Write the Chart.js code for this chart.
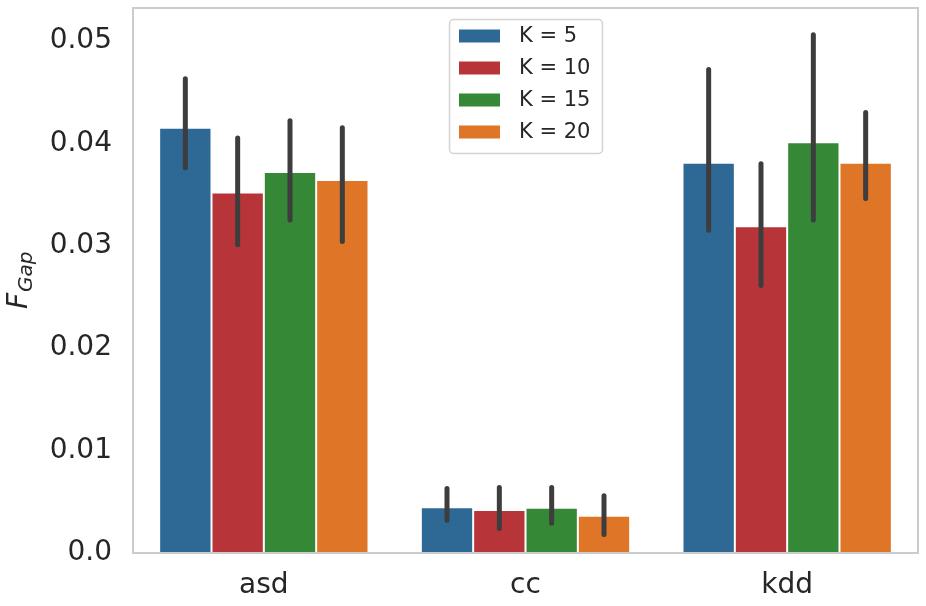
<!DOCTYPE html>
<html>
<head>
<meta charset="utf-8">
<script src="https://cdn.jsdelivr.net/npm/chart.js@4/dist/chart.umd.min.js"></script>
<style>
html,body{margin:0;padding:0;background:#fff;}
#wrap{width:926px;height:606px;position:relative;}
</style>
</head>
<body>
<div id="wrap"><canvas id="c" width="926" height="606"></canvas></div>
<script>
const categories = ['asd', 'cc', 'kdd'];
const seriesLabels = ['K = 5', 'K = 10', 'K = 15', 'K = 20'];
const seriesColors = ['#2e6894', '#b73539', '#358836', '#de7527'];

const k5  = [0.0415, 0.00446, 0.0381];
const k10 = [0.0352, 0.00420, 0.0319];
const k15 = [0.0372, 0.00442, 0.0401];
const k20 = [0.0364, 0.00364, 0.0381];

const k5Low   = [0.0376, 0.0032, 0.0315];
const k5High  = [0.0463, 0.0063, 0.0472];
const k10Low  = [0.0301, 0.0024, 0.0261];
const k10High = [0.0405, 0.0064, 0.0380];
const k15Low  = [0.0325, 0.0029, 0.0325];
const k15High = [0.0422, 0.0064, 0.0506];
const k20Low  = [0.0304, 0.0018, 0.0346];
const k20High = [0.0415, 0.0056, 0.0430];

const yTicks = [0, 0.01, 0.02, 0.03, 0.04, 0.05];
const yTickLabels = ['0.0', '0.01', '0.02', '0.03', '0.04', '0.05'];
const yMax = 0.0532;

const seriesValues = [k5, k10, k15, k20];
const seriesLow = [k5Low, k10Low, k15Low, k20Low];
const seriesHigh = [k5High, k10High, k15High, k20High];

const FONT = "'DejaVu Sans', sans-serif";
const TEXT = '#262626';

const errorBarPlugin = {
  id: 'errorBars',
  afterDatasetsDraw(chart) {
    const ctx = chart.ctx;
    const y = chart.scales.y;
    ctx.save();
    ctx.strokeStyle = '#3d3d3d';
    ctx.lineWidth = 5;
    ctx.lineCap = 'round';
    chart.data.datasets.forEach((ds, i) => {
      const meta = chart.getDatasetMeta(i);
      meta.data.forEach((bar, j) => {
        ctx.beginPath();
        ctx.moveTo(bar.x, y.getPixelForValue(seriesLow[i][j]));
        ctx.lineTo(bar.x, y.getPixelForValue(seriesHigh[i][j]));
        ctx.stroke();
      });
    });
    ctx.restore();
  }
};

const framePlugin = {
  id: 'frame',
  afterDraw(chart) {
    const a = chart.chartArea;
    const ctx = chart.ctx;
    ctx.save();
    ctx.strokeStyle = '#cccccc';
    ctx.lineWidth = 2;
    ctx.strokeRect(a.left, a.top, a.right - a.left, a.bottom - a.top);
    ctx.restore();
  }
};

const legendPlugin = {
  id: 'customLegend',
  afterDraw(chart) {
    const ctx = chart.ctx;
    const bx = 449.5, by = 19.5, bw = 153, bh = 134, r = 4;
    ctx.save();
    ctx.beginPath();
    ctx.moveTo(bx + r, by);
    ctx.arcTo(bx + bw, by, bx + bw, by + bh, r);
    ctx.arcTo(bx + bw, by + bh, bx, by + bh, r);
    ctx.arcTo(bx, by + bh, bx, by, r);
    ctx.arcTo(bx, by, bx + bw, by, r);
    ctx.closePath();
    ctx.fillStyle = 'rgba(255,255,255,0.85)';
    ctx.fill();
    ctx.strokeStyle = '#d3d3d3';
    ctx.lineWidth = 1.5;
    ctx.stroke();
    ctx.font = '21px ' + FONT;
    ctx.textBaseline = 'middle';
    ctx.textAlign = 'left';
    chart.data.datasets.forEach((ds, i) => {
      const cy = 36 + i * 32;
      ctx.fillStyle = ds.backgroundColor;
      ctx.fillRect(459, cy - 6.5, 41, 13);
      ctx.fillStyle = TEXT;
      ctx.fillText(ds.label, 519, cy + 1);
    });
    ctx.restore();
  }
};

const yTitlePlugin = {
  id: 'yTitle',
  afterDraw(chart) {
    const ctx = chart.ctx;
    ctx.save();
    ctx.translate(27, 309);
    ctx.rotate(-Math.PI / 2);
    ctx.fillStyle = TEXT;
    ctx.textBaseline = 'alphabetic';
    ctx.textAlign = 'left';
    ctx.font = 'italic 28px ' + FONT;
    ctx.fillText('F', 0, 0);
    const w = ctx.measureText('F').width;
    ctx.font = 'italic 20px ' + FONT;
    ctx.fillText('Gap', w + 1, 5);
    ctx.restore();
  }
};

new Chart(document.getElementById('c'), {
  type: 'bar',
  data: {
    labels: categories,
    datasets: seriesLabels.map((lab, i) => ({
      label: lab,
      data: seriesValues[i],
      backgroundColor: seriesColors[i],
      borderColor: '#ffffff',
      borderWidth: 1,
      categoryPercentage: 0.8,
      barPercentage: 1.0
    }))
  },
  options: {
    responsive: false,
    animation: false,
    devicePixelRatio: 1,
    layout: { padding: { left: 0, top: 8, right: 8, bottom: 0 } },
    plugins: {
      legend: { display: false },
      tooltip: { enabled: false }
    },
    scales: {
      x: {
        grid: { display: false, drawTicks: false },
        border: { display: false },
        ticks: { font: { family: FONT, size: 28 }, color: TEXT, padding: 16 },
        afterFit(s) { s.height = 53; s.paddingLeft = 0; s.paddingRight = 0; }
      },
      y: {
        min: 0,
        max: yMax,
        grid: { display: false, drawTicks: false },
        border: { display: false },
        afterBuildTicks(s) { s.ticks = yTicks.map(v => ({ value: v })); },
        ticks: {
          font: { family: FONT, size: 28 },
          color: TEXT,
          padding: 21,
          callback(v) {
            const k = yTicks.findIndex(t => Math.abs(t - v) < 1e-9);
            return k >= 0 ? yTickLabels[k] : '';
          }
        },
        afterFit(s) { s.width = 133; s.paddingTop = 0; s.paddingBottom = 0; }
      }
    }
  },
  plugins: [errorBarPlugin, framePlugin, legendPlugin, yTitlePlugin]
});
</script>
</body>
</html>
